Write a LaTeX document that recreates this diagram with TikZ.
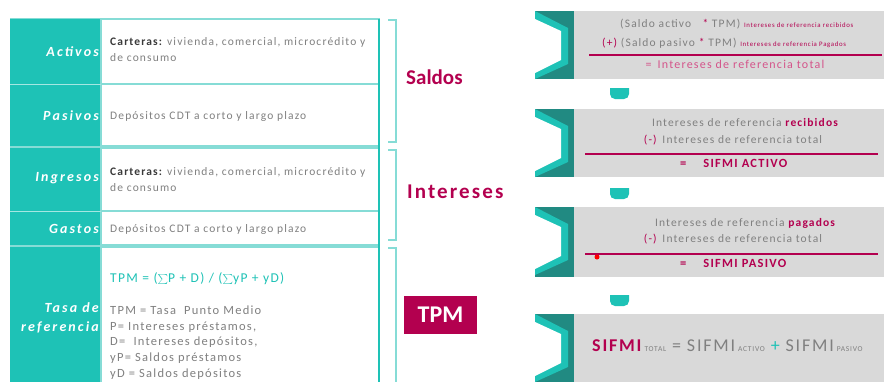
\documentclass[tikz,border=0pt]{standalone}
\usepackage{fontspec}
\setmainfont{Carlito}[LetterSpace=10]
\newfontfamily\plainf{Carlito}
\definecolor{teal1}{HTML}{1EC2B6}
\definecolor{lteal}{HTML}{86DCD6}
\definecolor{dteal}{HTML}{218A82}
\definecolor{crim}{HTML}{B3004F}
\definecolor{pinkc}{HTML}{D4548A}
\definecolor{grayp}{HTML}{D9D9D9}
\definecolor{txtg}{HTML}{808080}
\definecolor{txtd}{HTML}{3A3A3A}
\begin{document}
\begin{tikzpicture}[x=1pt,y=-1pt,
  lbl/.style={font=\fontsize{14}{19.5}\selectfont\bfseries\itshape\addfontfeature{LetterSpace=15}, text=white, anchor=east, inner sep=0pt, align=right},
  cell/.style={font=\fontsize{11.5}{16}\selectfont, text=txtg, anchor=west, inner sep=0pt, align=left},
  big/.style={font=\fontsize{21}{24}\selectfont\bfseries, text=crim, anchor=west, inner sep=0pt},
  ptxt/.style={font=\fontsize{11.5}{14}\selectfont, text=txtg, inner sep=0pt},
  tinyt/.style={font=\fontsize{6.8}{7}\selectfont},
  rulec/.style={crim, line width=1.5},
  brk/.style={lteal, line width=2}
]
\useasboundingbox (0,0) rectangle (884,381);

% ---------------- left table ----------------
\foreach \t/\b in {19/84, 84/146, 148/211, 211/245, 247/390}{
  \fill[teal1] (10,\t) rectangle (101,\b);
  \draw[lteal, line width=1.2, fill=white] (101,\t) rectangle (379,\b);
}
\draw[white!60!teal1, line width=1] (10,84) -- (101,84);
\draw[white!60!teal1, line width=1] (10,211) -- (101,211);
\draw[lteal, line width=2] (10,147) -- (379,147);
\draw[lteal, line width=2] (10,246) -- (379,246);
\draw[lteal, line width=1.2] (10,18.5) -- (379,18.5);
\draw[teal1, line width=1.3] (379,18.5) -- (379,390);

\node[lbl] (activos) at (99,52) {Activos};
\node[lbl] (pasivos) at (99,116) {Pasivos};
\node[lbl] (ingresos) at (99,178) {Ingresos};
\node[lbl] (gastos) at (99,229) {Gastos};
\node[lbl] (tasa) at (99,318) {Tasa de\\referencia};

\node[cell] (c1) at (110,50) {\textcolor{txtd}{\bfseries Carteras:} vivienda, comercial, microcrédito y\\de consumo};
\node[cell] (c2) at (110,116) {Depósitos CDT a corto y largo plazo};
\node[cell] (c3) at (110,179.5) {\textcolor{txtd}{\bfseries Carteras:} vivienda, comercial, microcrédito y\\de consumo};
\node[cell] (c4) at (110,229) {Depósitos CDT a corto y largo plazo};
\node[cell, text=teal1, font=\fontsize{13.5}{15}\selectfont] (f1) at (110,279) {TPM = ($\sum$P + D) / ($\sum$yP + yD)};
\node[cell, font=\fontsize{12.5}{15.75}\selectfont] (c5) at (110,342.5) {TPM = Tasa\ \ Punto Medio\\P= Intereses préstamos,\\D=\ \ Intereses depósitos,\\yP= Saldos préstamos\\yD = Saldos depósitos};

% brackets
\draw[brk] (388,20) -- (396,20) -- (396,142) -- (388,142);
\draw[brk] (388,150) -- (396,150) -- (396,240) -- (388,240);
\draw[brk] (388,248) -- (396,248) -- (396,390);

\node[big, font=\fontsize{21}{24}\selectfont\plainf\bfseries] (saldos) at (406,77) {Saldos};
\node[big] (intereses) at (407,192) {Intereses};
\node[fill=crim, text=white, font=\fontsize{24}{26}\selectfont\plainf\bfseries, minimum width=73, minimum height=38, inner sep=0pt] (tpm) at (440.5,315) {TPM};

% ---------------- right panels ----------------
\foreach \t/\b in {11/79, 109/177, 207/277, 314/395}{
  \fill[grayp] (574,\t) rectangle (884,\b);
  \fill[dteal] (535,\t) rectangle (574,\b);
  \fill[teal1] (535,\t) -- (568,\t+17) -- (568,\t+53) -- (535,\t+68) -- cycle;
  \fill[white] (535,\t+8) -- (561,\t+20) -- (561,\t+49) -- (535,\t+62) -- cycle;
}
% tabs
\foreach \y in {88,188,295}{
  \fill[teal1] (610,\y) -- (629,\y) -- (629,\y+6) arc[start angle=0,end angle=90,radius=5] -- (615,\y+11) arc[start angle=90,end angle=180,radius=5] -- cycle;
}

% panel 1
\node[ptxt, anchor=west] (p1a) at (620,24) {(Saldo activo\ \ \ \textcolor{crim}{*} TPM) \textcolor{crim}{\fontsize{6.8}{7}\selectfont Intereses de referencia recibidos}};
\node[ptxt, anchor=west] (p1b) at (602,43) {\textcolor{crim}{(+)} (Saldo pasivo \textcolor{crim}{*} TPM) \textcolor{crim}{\fontsize{6.8}{7}\selectfont Intereses de referencia Pagados}};
\coordinate (r1a) at (589,55); \coordinate (r1b) at (882,55);
\draw[rulec] (r1a) -- (r1b);
\node[ptxt, text=pinkc, font=\fontsize{12}{14}\selectfont] (p1c) at (735,64) {=\enspace Intereses de referencia total};

% panel 2
\node[ptxt] (p2a) at (745,123) {Intereses de referencia \textcolor{crim}{\bfseries recibidos}};
\node[ptxt] (p2b) at (733,140) {\textcolor{crim}{(-)}\enspace Intereses de referencia total};
\coordinate (r2a) at (585,154); \coordinate (r2b) at (878,154);
\draw[rulec] (r2a) -- (r2b);
\node[ptxt, text=crim, font=\fontsize{12.5}{14}\selectfont\bfseries, anchor=west] (p2c) at (680,163) {=\hspace{17pt}SIFMI ACTIVO};

% panel 3
\node[ptxt] (p3a) at (745,223) {Intereses de referencia \textcolor{crim}{\bfseries pagados}};
\node[ptxt] (p3b) at (733,239) {\textcolor{crim}{(-)}\enspace Intereses de referencia total};
\coordinate (r3a) at (585,254); \coordinate (r3b) at (878,254);
\draw[rulec] (r3a) -- (r3b);
\fill[red] (597,257) circle (2.5);
\node[ptxt, text=crim, font=\fontsize{12.5}{14}\selectfont\bfseries, anchor=west] (p3c) at (680,263) {=\hspace{17pt}SIFMI PASIVO};

% panel 4
\node[ptxt, font=\fontsize{18}{20}\selectfont, anchor=west] (p4) at (592,346) {\textcolor{crim}{\bfseries SIFMI}\,{\fontsize{7.5}{8}\selectfont TOTAL} = SIFMI\,{\fontsize{7.5}{8}\selectfont ACTIVO} \textcolor{teal1}{+} SIFMI\,{\fontsize{7.5}{8}\selectfont PASIVO}};
\end{tikzpicture}
\end{document}
